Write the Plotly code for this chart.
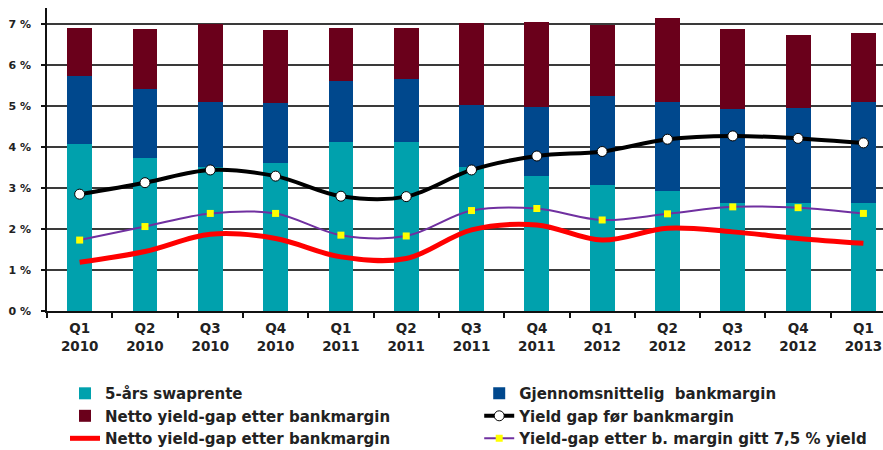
import plotly.graph_objects as go

categories = ["Q1<br>2010", "Q2<br>2010", "Q3<br>2010", "Q4<br>2010",
              "Q1<br>2011", "Q2<br>2011", "Q3<br>2011", "Q4<br>2011",
              "Q1<br>2012", "Q2<br>2012", "Q3<br>2012", "Q4<br>2012",
              "Q1<br>2013"]

swaprente = [4.07, 3.73, 3.52, 3.60, 4.11, 4.11, 3.52, 3.29, 3.07, 2.93, 2.63, 2.63, 2.63]
bankmargin = [1.65, 1.68, 1.58, 1.48, 1.51, 1.54, 1.50, 1.68, 2.17, 2.17, 2.30, 2.33, 2.47]
netto_bar = [1.19, 1.46, 1.89, 1.77, 1.29, 1.26, 2.00, 2.07, 1.74, 2.04, 1.96, 1.77, 1.67]
yield_gap_for = [2.85, 3.13, 3.44, 3.29, 2.80, 2.79, 3.44, 3.78, 3.89, 4.19, 4.27, 4.21, 4.10]
netto_line = [1.19, 1.45, 1.87, 1.77, 1.32, 1.28, 1.98, 2.10, 1.73, 2.02, 1.93, 1.77, 1.65]
yield_gap_75 = [1.73, 2.06, 2.38, 2.38, 1.85, 1.83, 2.45, 2.50, 2.22, 2.37, 2.54, 2.52, 2.38]

y_ticks = [0, 1, 2, 3, 4, 5, 6, 7]
y_tick_labels = ["0 %", "1 %", "2 %", "3 %", "4 %", "5 %", "6 %", "7 %"]

FONT = "DejaVu Sans"
TXT = "#222222"

fig = go.Figure()
bw = 0.38
fig.add_trace(go.Bar(x=categories, y=swaprente, name="5-års swaprente",
                     marker=dict(color="#00A1AD", line=dict(width=0)), width=bw,
                     legend="legend", legendrank=1))
fig.add_trace(go.Bar(x=categories, y=bankmargin, name="Gjennomsnittelig  bankmargin",
                     marker=dict(color="#00488D", line=dict(width=0)), width=bw,
                     legend="legend2", legendrank=1))
fig.add_trace(go.Bar(x=categories, y=netto_bar, name="Netto yield-gap etter bankmargin",
                     marker=dict(color="#6A001B", line=dict(width=0)), width=bw,
                     legend="legend", legendrank=2))
fig.add_trace(go.Scatter(x=categories, y=netto_line, name="Netto yield-gap etter bankmargin",
                         mode="lines", line=dict(color="#FF0000", width=5, shape="spline", smoothing=1),
                         legend="legend", legendrank=3))
fig.add_trace(go.Scatter(x=categories, y=yield_gap_75, name="Yield-gap etter b. margin gitt 7,5 % yield",
                         mode="lines+markers",
                         line=dict(color="#7030A0", width=2, shape="spline", smoothing=1),
                         marker=dict(symbol="square", size=7, color="#FFFF00", line=dict(width=0)),
                         legend="legend2", legendrank=3))
fig.add_trace(go.Scatter(x=categories, y=yield_gap_for, name="Yield gap før bankmargin",
                         mode="lines+markers",
                         line=dict(color="#000000", width=4, shape="spline", smoothing=1),
                         marker=dict(symbol="circle", size=10, color="#FFFFFF", line=dict(color="#000000", width=1)),
                         legend="legend2", legendrank=2))

leg_common = dict(orientation="v", xanchor="left", yanchor="top",
                  font=dict(family=FONT, size=15, color=TXT, weight="bold"),
                  itemwidth=30, tracegroupgap=0, traceorder="normal",
                  bgcolor="rgba(0,0,0,0)", borderwidth=0)

fig.update_layout(
    width=883, height=450,
    margin=dict(l=47, r=0, t=8, b=139, autoexpand=False),
    paper_bgcolor="white", plot_bgcolor="white",
    barmode="stack", bargap=0.62,
    font=dict(family=FONT, color=TXT),
    showlegend=True,
    legend=dict(x=0.0215, y=-0.218, **leg_common),
    legend2=dict(x=0.517, y=-0.218, **leg_common),
    xaxis=dict(type="category", range=[-0.5, 12.3], showgrid=False,
               showline=True, linecolor="#111111", linewidth=1.5,
               ticks="outside", tickson="boundaries", ticklen=5, tickcolor="#111111", tickwidth=1.5,
               tickfont=dict(family=FONT, size=13.5, color=TXT, weight="bold"),
               ticklabelstandoff=4, fixedrange=True),
    yaxis=dict(range=[0, 7.39], tickvals=y_ticks, ticktext=y_tick_labels,
               showgrid=True, gridcolor="#3a3a3a", gridwidth=1.5,
               showline=True, linecolor="#111111", linewidth=1.5,
               ticks="outside", ticklen=4, tickcolor="#111111", tickwidth=1.5,
               tickfont=dict(family=FONT, size=11, color=TXT, weight="bold"),
               ticklabelstandoff=8, zeroline=False, fixedrange=True),
)

fig.write_html("out.html")
